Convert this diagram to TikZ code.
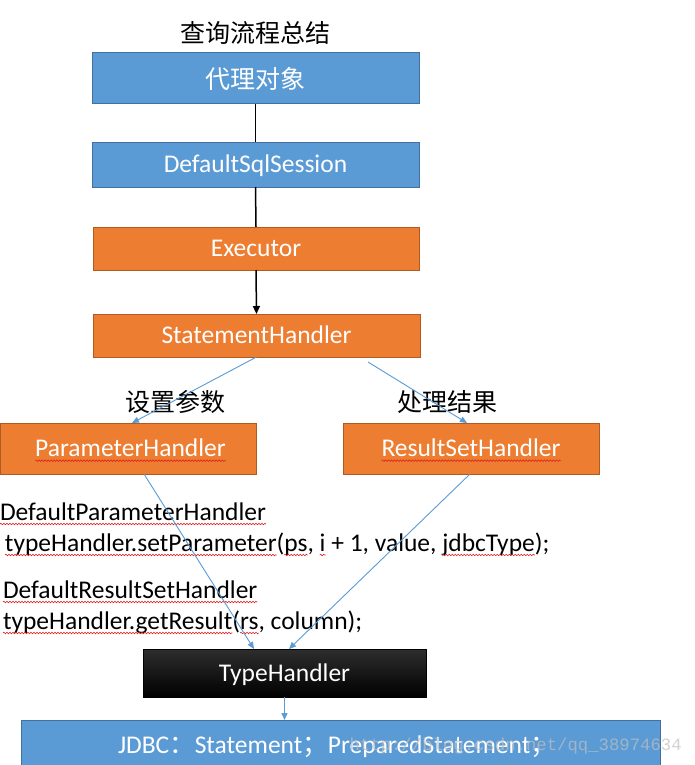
\documentclass[tikz,border=0pt]{standalone}
\usepackage{fontspec}
\setmainfont{Carlito}
\newfontfamily\cjk{Noto Sans CJK SC}
\newfontfamily\wmfont{Liberation Mono}
\usetikzlibrary{arrows.meta,calc,decorations.pathmorphing}
\definecolor{boxblue}{HTML}{5B9BD5}
\definecolor{blueedge}{HTML}{41719C}
\definecolor{boxorange}{HTML}{ED7D31}
\definecolor{orangeedge}{HTML}{AE5A21}
\definecolor{linkblue}{HTML}{5B9BD5}
\definecolor{spellred}{HTML}{E02020}
\newcommand{\latinsize}{\fontsize{25.5}{30}\selectfont}
\newcommand{\cjksize}{\fontsize{25}{30}\selectfont\cjk}
\tikzset{
  box/.style={rectangle, inner sep=0pt, outer sep=0pt, line width=1pt},
  bluebox/.style={box, fill=boxblue, draw=blueedge},
  orangebox/.style={box, fill=boxorange, draw=orangeedge},
  boxtext/.style={inner sep=0pt, outer sep=0pt, text=white, font=\latinsize, text height=16.4pt, text depth=0pt},
  cjkboxtext/.style={inner sep=0pt, outer sep=0pt, text=white, font=\cjksize},
  flow/.style={line width=1.5pt, draw=black},
  flowarrow/.style={flow, -{Triangle[length=8pt,width=7pt]}},
  link/.style={draw=linkblue, line width=0.9pt, -{Triangle[length=7pt,width=6pt]}},
  piece/.style={inner sep=0pt, outer sep=0pt, anchor=base west, font=\latinsize},
  wavy/.style={draw=spellred, line width=0.6pt, decorate, decoration={snake, amplitude=0.8pt, segment length=3pt}},
  cjklabel/.style={font=\cjksize, inner sep=0pt},
}
\begin{document}
\begin{tikzpicture}[x=1pt,y=-1pt]
\useasboundingbox (0,0) rectangle (695,765);
\fill[white] (0,0) rectangle (695,765);

% title
\node[cjklabel] (title) at (255,33) {查询流程总结};

% boxes
\node[bluebox, minimum width=327pt, minimum height=51pt] (b1) at (255.5,78.5) {};
\node[cjkboxtext] (t1) at (b1) {代理对象};
\node[bluebox, minimum width=327pt, minimum height=45pt] (b2) at (255.5,164.5) {};
\node[boxtext] (t2) at (b2) {DefaultSqlSession};
\node[orangebox, minimum width=326pt, minimum height=43pt] (b3) at (256,248.5) {};
\node[boxtext] (t3) at (b3) {Executor};
\node[orangebox, minimum width=327pt, minimum height=43pt] (b4) at (256.5,335.5) {};
\node[boxtext] (t4) at (b4) {StatementHandler};
\node[orangebox, minimum width=256pt, minimum height=51pt] (b5) at (128.5,448.5) {};
\node[boxtext] (t5) at ($(b5)+(2,0)$) {ParameterHandler};
\node[orangebox, minimum width=256pt, minimum height=51pt] (b6) at (471,448.5) {};
\node[boxtext] (t6) at (b6) {ResultSetHandler};
\node[box, draw=black, top color=black!82, bottom color=black, minimum width=283pt, minimum height=48pt] (b7) at (284.5,673) {};
\node[boxtext] (t7) at (b7) {TypeHandler};
\node[bluebox, minimum width=639pt, minimum height=54pt, anchor=north west] (b8) at (21,720) {};
\node[boxtext, anchor=base west] (t8) at (118,753) {JDBC{\cjk ：}Statement{\cjk ；}PreparedStatement{\cjk ；}};

% spell-check underlines inside boxes
\draw[wavy] ($(t5.base west)+(0,4)$) -- ($(t5.base east)+(0,4)$);
\draw[wavy] ($(t6.base west)+(0,4)$) -- ($(t6.base east)+(0,4)$);

% labels
\node[cjklabel] (lab1) at (175,402) {设置参数};
\node[cjklabel] (lab2) at (447,402) {处理结果};

% code lines
\node[piece] (l1) at (0,520) {DefaultParameterHandler};
\node[piece] (l2a) at (5,551) {typeHandler.setParameter};
\node[piece] (l2b) at (l2a.base east) {(};
\node[piece] (l2c) at (l2b.base east) {ps};
\node[piece] (l2d) at (l2c.base east) {,\ \mbox{}};
\node[piece] (l2e) at (l2d.base east) {i};
\node[piece] (l2f) at (l2e.base east) {\ + 1, value,\ \mbox{}};
\node[piece] (l2g) at (l2f.base east) {jdbcType};
\node[piece] (l2h) at (l2g.base east) {);};
\node[piece] (l3) at (3,598) {DefaultResultSetHandler};
\node[piece] (l4a) at (3,629) {typeHandler.getResult};
\node[piece] (l4b) at (l4a.base east) {(};
\node[piece] (l4c) at (l4b.base east) {rs};
\node[piece] (l4d) at (l4c.base east) {, column);};

\foreach \n in {l1,l2a,l2c,l2e,l2g,l3,l4a,l4c}
  \draw[wavy] ($(\n.base west)+(0,4)$) -- ($(\n.base east)+(0,4)$);

% connectors
\draw[flow] (b1.south) -- (b2.north);
\draw[flow] (b2.south) -- (b3.north);
\draw[flowarrow] (b3.south) -- (b4.north);
\draw[link] (b4.south) -- ($(b5.north)+(3.5,0)$);
\draw[link] ($(b4.south)+(111.5,5)$) -- ($(b6.north)+(-4,0)$);
\draw[link] ($(b5.south)+(15.5,0)$) -- ($(b7.north)+(-30.5,0)$);
\draw[link] ($(b6.south)+(-1,0)$) -- ($(b7.north)+(4.5,0)$);
\draw[link] (b7.south) -- (b8.north -| b7.south);

% watermark
\node[anchor=base east, inner sep=0pt, font=\wmfont\fontsize{17.3}{20}\selectfont, text=white!75!black, opacity=0.7] (wm) at (682,750) {http://blog.csdn.net/qq\_38974634};
\end{tikzpicture}
\end{document}
